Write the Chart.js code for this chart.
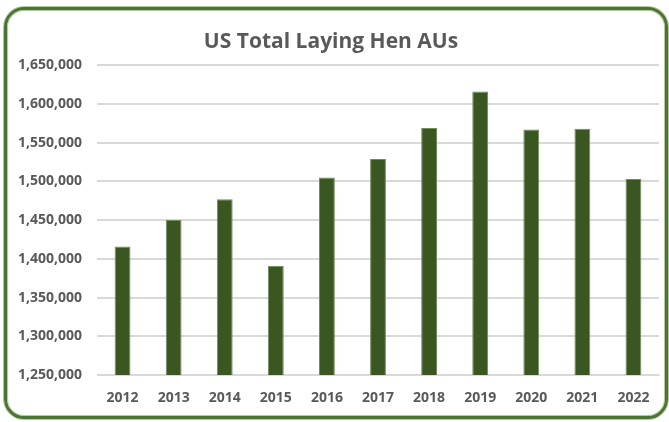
<!DOCTYPE html>
<html>
<head>
<meta charset="utf-8">
<script src="https://cdn.jsdelivr.net/npm/chart.js@4"></script>
<style>
  html, body { margin: 0; padding: 0; background: #fff; }
  #wrap { position: relative; width: 669px; height: 422px; overflow: hidden; }
  #frame {
    position: absolute; left: 4px; top: 7px; width: 658px; height: 406px;
    border: 3px solid #4b7332; border-radius: 20px;
    box-shadow: inset 0 0 0 1px #b5c9a2, 0 0 0 1px #b5c9a2;
  }
  #c { position: absolute; left: 0; top: 0; }
</style>
</head>
<body>
<div id="wrap">
  <div id="frame"></div>
  <canvas id="c" width="669" height="422"></canvas>
</div>
<script>
// data
const years = ['2012', '2013', '2014', '2015', '2016', '2017', '2018', '2019', '2020', '2021', '2022'];
const henAUs = [1416000, 1450000, 1477000, 1391000, 1505000, 1529000, 1569000, 1616000, 1567000, 1568000, 1503000];
const yTicks = [1250000, 1300000, 1350000, 1400000, 1450000, 1500000, 1550000, 1600000, 1650000];

const grey = '#595959';

new Chart(document.getElementById('c').getContext('2d'), {
  type: 'bar',
  data: {
    labels: years,
    datasets: [{
      label: 'US Total Laying Hen AUs',
      data: henAUs,
      backgroundColor: '#3a5722',
      borderColor: '#6f8c5a',
      borderWidth: 1,
      barPercentage: 0.31,
      categoryPercentage: 1
    }]
  },
  options: {
    responsive: false,
    animation: false,
    // padding ticks dihitung dua kali oleh Chart.js, jadi layout padding dikecilkan
    layout: { padding: { left: 3, right: 10, top: 14, bottom: 2 } },
    plugins: {
      legend: { display: false },
      tooltip: { enabled: false },
      title: {
        display: true,
        text: 'US Total Laying Hen AUs',
        color: grey,
        font: { family: 'Open Sans', size: 21, weight: 'bold' },
        padding: { top: 15, bottom: 11 }
      }
    },
    scales: {
      x: {
        // tinggi sumbu x dipatok supaya dasar plot di y=375
        afterFit: axis => { axis.height = 45; },
        grid: { display: false },
        border: { color: '#d9d9d9', width: 1 },
        ticks: {
          color: grey,
          font: { family: 'Open Sans', size: 14, weight: 'bold' },
          padding: 7,
          maxRotation: 0
        }
      },
      y: {
        min: 1250000,
        max: 1650000,
        afterBuildTicks: axis => { axis.ticks = yTicks.map(v => ({ value: v })); },
        grid: { color: '#d9d9d9', lineWidth: 2, drawTicks: false },
        border: { display: false },
        ticks: {
          color: grey,
          font: { family: 'Open Sans', size: 14, weight: 'bold' },
          padding: 15,
          callback: v => v.toLocaleString('en-US')
        }
      }
    }
  }
});
</script>
</body>
</html>
